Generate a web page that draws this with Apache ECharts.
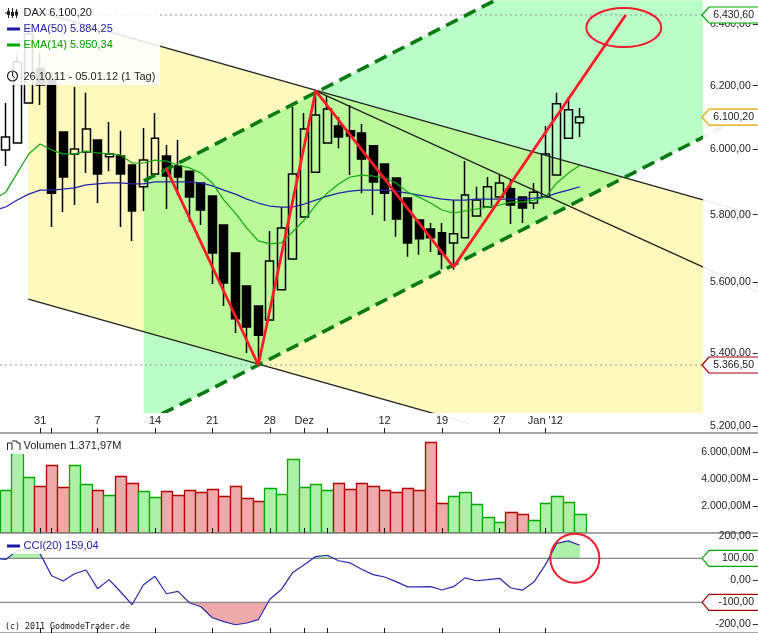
<!DOCTYPE html>
<html>
<head>
<meta charset="utf-8">
<script src="https://cdn.jsdelivr.net/npm/echarts@6/dist/echarts.min.js"></script>
<style>html,body{margin:0;padding:0;background:#fff}#c{width:758px;height:633px}</style>
</head>
<body>
<div id="c"></div>
<script>
// ---------- data ----------
const dates = ['26.10','27.10','28.10','31.10','01.11','02.11','03.11','04.11','07.11','08.11','09.11','10.11','11.11','14.11','15.11','16.11','17.11','18.11','21.11','22.11','23.11','24.11','25.11','28.11','29.11','30.11','01.12','02.12','05.12','06.12','07.12','08.12','09.12','12.12','13.12','14.12','15.12','16.12','19.12','20.12','21.12','22.12','23.12','27.12','28.12','29.12','30.12','02.01','03.01','04.01','05.01'];
const futureSlots = 15;
const tickIndex = [3,4,8,13,18,23,26,28,33,38,43,47];
const tickLabels = ['31','','7','14','21','28','Dez','','12','19','27',"Jan '12"];
const open  = [5997,6019,6145,6256,6218,6053,5985,5991,6028,5976,5979,5951,5884,5923,5979,5948,5932,5896,5856,5769,5686,5590,5533,5493,5579,5669,5793,5929,6019,6072,6057,6050,6010,5954,5911,5850,5784,5757,5746,5716,5731,5796,5823,5853,5878,5853,5835,5853,5920,6034,6082];
const close = [6038,6276,6368,6202,5865,5914,6000,6063,5923,5985,5923,5811,5966,6034,5917,5914,5853,5814,5686,5599,5496,5473,5450,5663,5760,5923,6063,6107,6126,6038,6041,5969,5899,5865,5787,5716,5728,5731,5683,5743,5859,5844,5884,5896,5829,5820,5868,5985,6142,6123,6100.2];
const high  = [6145,6299,6404,6306,6244,6053,6196,6177,6028,6085,6057,5951,6066,6113,6013,6028,5932,5896,5856,5769,5686,5590,5533,5751,5823,6132,6113,6186,6167,6100,6138,6078,6010,5954,5911,5850,5784,5775,5775,5844,5963,5884,5914,5920,5905,5853,5896,6072,6177,6161,6129];
const low   = [5948,6019,6145,6138,5763,5808,5829,5926,5835,5932,5763,5722,5811,5923,5817,5859,5778,5769,5596,5533,5456,5400,5366.5,5493,5579,5669,5793,5929,6019,6003,5920,5865,5799,5781,5734,5675,5681,5689,5639,5637,5731,5796,5823,5853,5772,5775,5817,5853,5920,6034,6038];
const volume = [3160,6000,4123,3457,5012,3383,5012,3605,3160,2790,4197,3679,3086,2642,3086,2790,3160,3012,3234,2716,3457,2568,2346,3308,2864,5456,3383,3605,3160,3679,3234,3679,3457,3160,3012,3308,3160,6716,2197,2716,3012,2123,1160,790,1531,1383,938,2197,2716,2271,1371.97];
// moving averages and CCI start one session before the first candle
const ema50 = [5814,5823,5844,5862,5874,5874,5877,5881,5890,5893,5896,5896,5893,5893,5899,5899,5899,5899,5896,5887,5874,5862,5847,5835,5826,5823,5823,5832,5844,5856,5865,5871,5874,5874,5874,5871,5865,5859,5853,5847,5844,5844,5847,5847,5847,5847,5847,5850,5853,5865,5874,5884.25];
const ema14 = [5847,5868,5926,5985,6016,5997,5985,5985,5994,5988,5985,5982,5957,5957,5966,5963,5951,5942,5926,5896,5844,5805,5760,5722,5713,5716,5749,5784,5829,5865,5893,5914,5920,5917,5911,5896,5868,5853,5835,5814,5805,5811,5817,5823,5829,5838,5838,5844,5853,5896,5926,5950.34];
const cci = [100,95,135,145,120,21,-3,30,47,-38,3,-52,-111,-20,18,-61,-50,-102,-120,-170,-188,-202,-194,-179,-86,-42,36,71,108,114,89,79,50,26,15,-6,-30,-30,-29,-44,-29,11,-2,3,9,-35,-45,-8,70,168,179,159.04];
const priceTicks = [5200,5400,5600,5800,6000,6200,6400];
const volumeTicks = [2000,4000,6000];
const cciTicks = [-200,0,200];
const priceTags = [6430.6,6100.2,5366.5];
const priceTagColors = ['#00aa00','#e8a400','#aa0000'];
const cciTags = [100,-100];
const cciTagColors = ['#00aa00','#aa0000'];
// drawn analysis, as [session index, price]
const zigzag = [[13.96,5942],[22,5366.5],[27,6183],[39,5645],[54,6430.6]];
const upperBlack = [[1.96,6450.6],[65.5,5798]];
const lowerBlack = [[1.96,5552.7],[40.48,5206]];
const innerBlack = [[27,6183],[65.5,5573]];
const upperDash = [[12.02,5902],[42.65,6480]];
const lowerDash = [[12.04,5208],[22,5366.5],[62.48,6069]];
const yellowZone = [[1.96,6450.6],[60.74,5844],[60.74,5235],[37.2,5235],[22,5366.5],[1.96,5552.7]];
const mintZone = [[12.02,5902],[42.65,6480],[60.74,6480],[60.74,6038],[22,5366.5],[13.77,5235],[12.02,5235]];
const dottedLevels = [6430.6,5366.5];
const noteEllipseCentre = [53.83,6389];
const noteCircleCentre = [49.57,100];

// ---------- helpers ----------
const L = v => Math.log(v);
const fmt = v => {
  const neg = v < 0, s = Math.abs(v).toFixed(2).split('.');
  return (neg ? '-' : '') + s[0].replace(/\B(?=(\d{3})+$)/g, '.') + ',' + s[1];
};
const up = i => close[i] >= open[i];
const logPts = a => a.map(p => [p[0], L(p[1])]);
const LEFT = -1.25, WIDTH = 759, N = dates.length + futureSlots;
const categories = dates.concat(new Array(futureSlots).fill(''));
const isTick = i => tickIndex.indexOf(i) >= 0;
const labelAt = i => { const k = tickIndex.indexOf(i); return k >= 0 ? tickLabels[k] : ''; };
const FONT = '"Liberation Sans", Arial, sans-serif';
const TXT = '#222';

// area of CCI beyond a level, with the crossing points of the drawn line
function beyond(level, sign) {
  const out = [];
  for (let j = 0; j < cci.length; j++) {
    const x = j - 1, v = cci[j];
    out.push([x, sign * (v - level) > 0 ? v : level]);
    if (j + 1 < cci.length) {
      const w = cci[j + 1];
      if ((v - level) * (w - level) < 0) out.push([x + (level - v) / (w - v), level]);
    }
  }
  return out;
}
const lineS = (name, data, color, width, extra) => Object.assign({
  name, type: 'line', data, xAxisIndex: 1, yAxisIndex: 0, symbol: 'none', silent: true,
  animation: false, z: 10, lineStyle: { color, width }
}, extra || {});
function polygonSeries(pts, fill, z) {
  return {
    type: 'custom', coordinateSystem: 'cartesian2d', xAxisIndex: 1, yAxisIndex: 0, silent: true,
    animation: false, z, clip: true, data: [logPts(pts)[0]],
    renderItem: (params, api) => ({
      type: 'polygon',
      shape: { points: logPts(pts).map(p => api.coord(p)) },
      style: { fill }
    })
  };
}
function tagSeries(values, colors, toY, xAxisIndex, yAxisIndex) {
  return {
    type: 'custom', coordinateSystem: 'cartesian2d', xAxisIndex, yAxisIndex, silent: true,
    animation: false, z: 60, clip: false, data: values.map(v => [60, toY(v)]),
    renderItem: (params, api) => {
      const y = api.coord([60, api.value(1)])[1], v = values[params.dataIndex];
      return { type: 'group', children: [
        { type: 'polygon', shape: { points: [[702,y],[709,y-8],[760,y-8],[760,y+8],[709,y+8]] },
          style: { fill: '#fff', stroke: colors[params.dataIndex], lineWidth: 1.2 } },
        { type: 'text', style: { text: fmt(v), x: 754, y, align: 'right', verticalAlign: 'middle',
          fill: TXT, font: '10.5px ' + FONT } }
      ]};
    }
  };
}
function noteSeries(centre, rx, ry, xAxisIndex, yAxisIndex) {
  return {
    type: 'custom', coordinateSystem: 'cartesian2d', xAxisIndex, yAxisIndex, silent: true,
    animation: false, z: 70, clip: false, data: [centre],
    renderItem: (params, api) => {
      const c = api.coord([api.value(0), api.value(1)]);
      return { type: 'ellipse', shape: { cx: c[0], cy: c[1], rx, ry },
        style: { fill: 'none', stroke: '#f01c2c', lineWidth: 2 } };
    }
  };
}
const catAxis = (gridIndex, showLabel) => ({
  type: 'category', gridIndex, data: categories, boundaryGap: true, z: 55,
  axisLine: { show: true, onZero: false, lineStyle: { color: '#888', width: 1.5 } },
  axisTick: { show: true, inside: true, length: 5, alignWithLabel: true, interval: i => isTick(i), lineStyle: { color: '#111', width: 1 } },
  axisLabel: { show: showLabel, inside: true, margin: 7, interval: i => isTick(i), hideOverlap: false, formatter: (v, i) => labelAt(i),
    color: TXT, fontSize: 11, fontFamily: FONT },
  splitLine: { show: false }
});
const hiddenX = gridIndex => ({ type: 'value', gridIndex, min: -0.5, max: N - 0.5, show: false, splitLine: { show: false } });
const valAxis = (gridIndex, min, max, ticks, formatter) => ({
  type: 'value', gridIndex, min, max, position: 'right', z: 55, scale: true,
  axisLine: { show: false, onZero: false },
  axisTick: { show: true, inside: true, length: 5, customValues: ticks, lineStyle: { color: '#333' } },
  axisLabel: { show: true, inside: true, margin: 7, customValues: ticks, formatter, color: TXT, fontSize: 10.5, fontFamily: FONT },
  splitLine: { show: false }
});
const legendText = (text, y, fill) => ({ type: 'text', z: 80, style: { text, x: 23.5, y, verticalAlign: 'middle', fill, font: '11px ' + FONT } });
const veil = (x, y, width, height, a) => ({ type: 'rect', z: 40, silent: true, shape: { x, y, width, height }, style: { fill: 'rgba(255,255,255,' + a + ')' } });
const bar = (x1, y1, x2, y2, stroke, lineWidth) => ({ type: 'line', z: 80, shape: { x1, y1, x2, y2 }, style: { stroke, lineWidth } });

const chart = echarts.init(document.getElementById('c'), null, { renderer: 'canvas' });
chart.setOption({
  animation: false,
  backgroundColor: '#fff',
  grid: [
    { left: LEFT, width: WIDTH, top: 0, height: 433 },
    { left: LEFT, width: WIDTH, top: 433, height: 100 },
    { left: LEFT, width: WIDTH, top: 533, height: 100 }
  ],
  xAxis: [catAxis(0, true), hiddenX(0), catAxis(1, false), catAxis(2, false), hiddenX(2)],
  yAxis: [
    valAxis(0, L(5181.2), L(6480.6), priceTicks.map(L), v => fmt(Math.round(Math.exp(v)))),
    valAxis(1, 0, 7407, volumeTicks, v => fmt(v) + 'M'),
    valAxis(2, -239.5, 215, cciTicks, v => fmt(v))
  ],
  series: [
    polygonSeries(yellowZone, '#fff9be', 1),
    polygonSeries(mintZone, 'rgba(0,255,50,0.27)', 1),
    { name: 'DAX', type: 'candlestick', xAxisIndex: 0, yAxisIndex: 0, z: 5, barWidth: 8.4, silent: true,
      data: dates.map((d, i) => [L(open[i]), L(close[i]), L(low[i]), L(high[i])]),
      itemStyle: { color: 'rgba(255,255,255,0)', color0: '#000', borderColor: '#000', borderColor0: '#000', borderWidth: 1.5 } },
    lineS('EMA(50)', ema50.map((v, j) => [j - 1, L(v)]), '#2222aa', 1.2),
    lineS('EMA(14)', ema14.map((v, j) => [j - 1, L(v)]), '#11a811', 1.2),
    lineS('upper', logPts(upperBlack), '#222', 1.3),
    lineS('lower', logPts(lowerBlack), '#222', 1.3),
    lineS('inner', logPts(innerBlack), '#222', 1.3),
    lineS('dashUp', logPts(upperDash), '#087a12', 3.6, { lineStyle: { color: '#087a12', width: 3.6, type: [13, 7] } }),
    lineS('dashLow', logPts(lowerDash), '#087a12', 3.6, { lineStyle: { color: '#087a12', width: 3.6, type: [13, 7] } }),
    lineS('zigzag', logPts(zigzag), '#ff1c28', 2.8, { z: 12 }),
    ...dottedLevels.map(v => lineS('level', [[-0.5, L(v)], [60.65, L(v)]], '#999', 1, { z: 6, lineStyle: { color: '#999', width: 1, type: [2, 3] } })),
    { name: 'Volumen', type: 'custom', coordinateSystem: 'cartesian2d', xAxisIndex: 2, yAxisIndex: 1, silent: true, z: 5,
      animation: false, clip: true, data: volume.map((v, i) => [i, v]),
      renderItem: (params, api) => {
        const i = api.value(0), top = api.coord([i, api.value(1)]), base = api.coord([i, 0]);
        const half = api.size([1, 0])[0] / 2;
        const x0 = Math.round(top[0] - half) + 0.5, x1 = Math.round(top[0] + half) + 0.5;
        const g = up(i);
        return { type: 'rect', shape: { x: x0, y: Math.round(top[1]) + 0.5, width: x1 - x0, height: base[1] - Math.round(top[1]) - 0.5 },
          style: { fill: g ? '#adf0a8' : '#eeaaaa', stroke: g ? '#00aa00' : '#b30000', lineWidth: 1.3 } };
      } },
    lineS('cciUp', beyond(100, 1), 'none', 0, { xAxisIndex: 4, yAxisIndex: 2, z: 4, lineStyle: { width: 0 }, areaStyle: { origin: 100, color: '#adf0a8', opacity: 1 } }),
    lineS('cciDown', beyond(-100, -1), 'none', 0, { xAxisIndex: 4, yAxisIndex: 2, z: 4, lineStyle: { width: 0 }, areaStyle: { origin: -100, color: '#eeaaaa', opacity: 1 } }),
    ...cciTags.map(v => lineS('level', [[-0.5, v], [60.65, v]], '#888', 1.2, { xAxisIndex: 4, yAxisIndex: 2, z: 5 })),
    lineS('CCI(20)', cci.map((v, j) => [j - 1, v]), '#2a2ab0', 1.2, { xAxisIndex: 4, yAxisIndex: 2, z: 6 }),
    tagSeries(priceTags, priceTagColors, L, 1, 0),
    tagSeries(cciTags, cciTagColors, v => v, 4, 2),
    noteSeries([noteEllipseCentre[0], L(noteEllipseCentre[1])], 37.5, 19.5, 1, 0),
    noteSeries(noteCircleCentre, 24.5, 24.5, 4, 2)
  ],
  graphic: { elements: [
    veil(703, 0, 55, 433, 0.92),
    veil(0, 413, 703, 20, 0.92),
    veil(0, 0, 160, 85, 0.87),
    veil(0, 434, 122, 20, 0.9),
    veil(0, 534, 100, 20, 0.87),
    // candlestick icon
    bar(8.5, 8, 8.5, 18, '#222', 1), bar(12.5, 8, 12.5, 18, '#222', 1), bar(16.5, 9, 16.5, 18, '#222', 1),
    { type: 'rect', z: 80, shape: { x: 7, y: 11, width: 3, height: 4 }, style: { fill: '#222' } },
    { type: 'rect', z: 80, shape: { x: 11, y: 12, width: 3, height: 4 }, style: { fill: '#222' } },
    { type: 'rect', z: 80, shape: { x: 15, y: 11.5, width: 3, height: 4 }, style: { fill: '#222' } },
    bar(5, 13, 7, 13, '#222', 1),
    legendText('DAX 6.100,20', 13, TXT),
    bar(7, 29, 20, 29, '#1a1aaa', 3),
    legendText('EMA(50) 5.884,25', 29, '#2222aa'),
    bar(7, 45, 20, 45, '#00aa00', 3),
    legendText('EMA(14) 5.950,34', 45, '#00a000'),
    { type: 'circle', z: 80, shape: { cx: 12.5, cy: 76, r: 5 }, style: { fill: 'none', stroke: '#222', lineWidth: 1.2 } },
    bar(12.5, 76, 12.5, 72, '#222', 1), bar(12.5, 76, 15, 78, '#222', 1),
    legendText('26.10.11 - 05.01.12 (1 Tag)', 77, TXT),
    { type: 'polyline', z: 80, shape: { points: [[7.5,450],[7.5,443],[12,443],[12,450]] }, style: { fill: 'none', stroke: '#222', lineWidth: 1 } },
    { type: 'polyline', z: 80, shape: { points: [[12,441],[17,441],[17,443],[20,443],[20,450]] }, style: { fill: 'none', stroke: '#222', lineWidth: 1 } },
    legendText('Volumen 1.371,97M', 446, TXT),
    bar(7, 546, 20, 546, '#1a1aaa', 3),
    legendText('CCI(20) 159,04', 546, '#2222aa'),
    { type: 'text', z: 80, style: { text: '(c) 2011 GodmodeTrader.de', x: 5, y: 627, verticalAlign: 'middle', fill: '#111', font: '8.3px "DejaVu Sans Mono", monospace' } }
  ] }
});
</script>
</body>
</html>
